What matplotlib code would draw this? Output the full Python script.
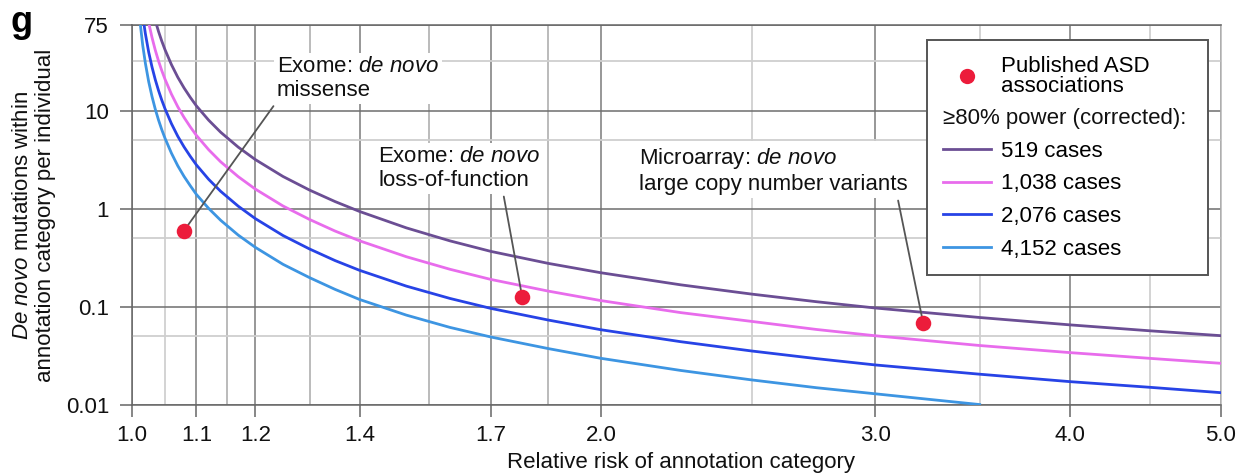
import numpy as np
import matplotlib.pyplot as plt
from matplotlib.lines import Line2D

plt.rcParams['font.family'] = ['Liberation Sans', 'DejaVu Sans']
plt.rcParams['mathtext.fontset'] = 'custom'
plt.rcParams['mathtext.rm'] = 'Liberation Sans'
plt.rcParams['mathtext.it'] = 'Liberation Sans:italic'
plt.rcParams['font.size'] = 16

# de novo rate needed for >=80% power
rr_519 = [1.035, 1.04, 1.045, 1.05, 1.06, 1.07, 1.08, 1.09, 1.1, 1.12, 1.14, 1.17,
          1.2, 1.25, 1.3, 1.35, 1.4, 1.5, 1.6, 1.7, 1.85, 2.0, 2.25, 2.5, 2.75,
          3.0, 3.5, 4.0, 4.5, 5.0]
rate_519 = [83.2, 64.4, 51.4, 42.0, 29.6, 22.0, 17.1, 13.7, 11.2, 8.02, 6.05, 4.26,
            3.18, 2.14, 1.555, 1.187, 0.94, 0.640, 0.4715, 0.368, 0.278, 0.223, 0.168,
            0.135, 0.113, 0.0975, 0.078, 0.0656, 0.0571, 0.0509]

rr_1038 = [1.022, 1.025, 1.03, 1.035, 1.04, 1.045, 1.05, 1.06, 1.07, 1.08, 1.09, 1.1,
           1.12, 1.14, 1.17, 1.2, 1.25, 1.3, 1.35, 1.4, 1.5, 1.6, 1.7, 1.85, 2.0,
           2.25, 2.5, 2.75, 3.0, 3.5, 4.0, 4.5, 5.0]
rate_1038 = [101, 79, 56, 41.6, 32.2, 25.7, 21.0, 14.8, 11.0, 8.55, 6.85, 5.6,
             4.01, 3.02, 2.13, 1.59, 1.07, 0.78, 0.594, 0.472, 0.325, 0.242, 0.1905,
             0.145, 0.116, 0.0875, 0.0711, 0.0589, 0.0508, 0.0404, 0.0342, 0.0299, 0.0266]

rr_2076 = [1.016, 1.02, 1.025, 1.03, 1.035, 1.04, 1.045, 1.05, 1.06, 1.07, 1.08, 1.09,
           1.1, 1.12, 1.14, 1.17, 1.2, 1.25, 1.3, 1.35, 1.4, 1.5, 1.6, 1.7, 1.85,
           2.0, 2.25, 2.5, 2.75, 3.0, 3.5, 4.0, 4.5, 5.0]
rate_2076 = [93, 61, 39.6, 28.0, 20.8, 16.1, 12.85, 10.5, 7.4, 5.5, 4.28, 3.43,
             2.8, 2.0, 1.51, 1.065, 0.795, 0.535, 0.39, 0.297, 0.236, 0.163, 0.122,
             0.0965, 0.0735, 0.0585, 0.0442, 0.0355, 0.0297, 0.0256, 0.0206, 0.0173,
             0.01515, 0.01335]

rr_4152 = [1.012, 1.013, 1.016, 1.02, 1.025, 1.03, 1.035, 1.04, 1.045, 1.05, 1.06,
           1.07, 1.08, 1.09, 1.1, 1.12, 1.14, 1.17, 1.2, 1.25, 1.3, 1.35, 1.4, 1.5,
           1.6, 1.7, 1.85, 2.0, 2.25, 2.5, 2.75, 3.0, 3.5]
rate_4152 = [81, 70, 46.5, 30.5, 19.8, 14.0, 10.4, 8.05, 6.42, 5.25, 3.7,
             2.75, 2.14, 1.72, 1.40, 1.01, 0.765, 0.54, 0.405, 0.272, 0.199, 0.151,
             0.119, 0.0825, 0.0618, 0.0493, 0.0376, 0.0299, 0.0225, 0.0180, 0.0150,
             0.0130, 0.0101]

case_labels = ['519 cases', '1,038 cases', '2,076 cases', '4,152 cases']
case_colors = ['#6B4E94', '#E86CEC', '#2743E6', '#3D95E2']

# published ASD associations
pub_rr = [1.08, 1.78, 3.22]
pub_rate = [0.60, 0.127, 0.068]
pub_labels = ['Exome: $\\mathit{de\\ novo}$\nmissense',
              'Exome: $\\mathit{de\\ novo}$\nloss-of-function',
              'Microarray: $\\mathit{de\\ novo}$\nlarge copy number variants']

x_ticks = [1.0, 1.1, 1.2, 1.4, 1.7, 2.0, 3.0, 4.0, 5.0]
x_minor = [1.15, 1.3, 1.55, 1.85]
x_faint = [1.05, 2.5, 3.5, 4.5]
y_ticks = [0.01, 0.1, 1, 10, 75]
y_tick_labels = ['0.01', '0.1', '1', '10', '75']
y_minor = [0.05, 0.5, 5, 32]

fig = plt.figure(figsize=(12.44, 4.75), dpi=100)
ax = fig.add_axes([0.1061, 0.1474, 0.8754, 0.8])
ax.set_xscale('log')
ax.set_yscale('log')
ax.set_xlim(1.0, 5.0)
ax.set_ylim(0.01, 75)

ax.set_xticks(x_ticks, [f'{t:.1f}' for t in x_ticks])
ax.set_xticks(x_minor, minor=True)
ax.set_yticks(y_ticks, y_tick_labels)
ax.set_yticks(y_minor, minor=True)
ax.xaxis.set_minor_formatter(plt.NullFormatter())
ax.yaxis.set_minor_formatter(plt.NullFormatter())

ax.tick_params(which='major', length=8.5, width=1.1, color='#666666', labelcolor='#111111')
ax.tick_params(axis='x', which='major', pad=6)
ax.tick_params(axis='y', which='major', pad=8)
ax.tick_params(which='minor', length=0)

ax.xaxis.grid(True, which='major', color='#7a7a7a', lw=1.1)
ax.yaxis.grid(True, which='major', color='#6e6e6e', lw=1.1)
ax.xaxis.grid(True, which='minor', color='#a8a8a8', lw=1.1)
ax.yaxis.grid(True, which='minor', color='#cfcfcf', lw=1.3)
for xf in x_faint:
    ax.axvline(xf, color='#d0d0d0', lw=1.3, zorder=0.5)
ax.set_axisbelow(True)

for sp in ['left', 'bottom', 'top']:
    ax.spines[sp].set_color('#666666')
    ax.spines[sp].set_linewidth(1.1)
ax.spines['right'].set_color('#b5b5b5')
ax.spines['right'].set_linewidth(1.1)

# power curves
series = [(rr_519, rate_519), (rr_1038, rate_1038), (rr_2076, rate_2076), (rr_4152, rate_4152)]
line_handles = []
for (rr, rate), lab, col in zip(series, case_labels, case_colors):
    ln, = ax.plot(rr, rate, color=col, lw=2, label=lab, zorder=3)
    line_handles.append(ln)

# published associations
ax.scatter(pub_rr, pub_rate, s=125, color='#EC1C3B', zorder=6, linewidths=0)

label_pos = [(1.239, 36.2), (1.4385, 4.38), (2.116, 4.38)]
label_relpos = [(0.0, 0.0), (0.77, 0.0), (0.96, 0.0)]
for rr, rate, lab, pos, rel in zip(pub_rr, pub_rate, pub_labels, label_pos, label_relpos):
    ax.annotate(lab, xy=(rr, rate), xytext=pos, textcoords='data',
                ha='left', va='top', linespacing=1.2, color='#111111',
                bbox=dict(boxstyle='square,pad=0.12', fc='white', ec='none'),
                arrowprops=dict(arrowstyle='-', color='#555555', lw=1.3,
                                relpos=rel, shrinkA=2, shrinkB=0),
                zorder=5)

# legend
fs_px = 16 * 100 / 72
dot_handle = Line2D([], [], marker='o', ls='none', color='#EC1C3B', ms=11, mew=0)
blank_handle = Line2D([], [], alpha=0)
leg = ax.legend([dot_handle, blank_handle] + line_handles,
                ['Published ASD\nassociations', ' '] + case_labels,
                loc='upper left', bbox_to_anchor=(0.730, 0.0, 0.258, 0.9605),
                mode='expand', borderaxespad=0,
                frameon=True, fancybox=False, framealpha=1, edgecolor='#555555',
                handlelength=2.2, handletextpad=0.45, labelspacing=0.52,
                borderpad=0.7, fontsize=16)
leg.get_frame().set_linewidth(1.4)
leg.get_texts()[0].set_linespacing(0.95)
leg.set_zorder(7)

fig.canvas.draw()
hdr = leg.get_texts()[1].get_window_extent()
frame = leg.get_frame().get_window_extent()
hx, hy = ax.transAxes.inverted().transform((frame.x0 + 0.7 * fs_px,
                                             (hdr.y0 + hdr.y1) / 2))
ax.text(hx, hy, '≥80% power (corrected):', transform=ax.transAxes,
        ha='left', va='center', color='#111111', zorder=8)

ax.set_xlabel('Relative risk of annotation category', color='#111111')
ax.xaxis.set_label_coords(0.504, -0.123)
ax.set_ylabel('$\\mathit{De\\ novo}$ mutations within\nannotation category per individual',
              color='#111111', linespacing=1.1, fontsize=16)
ax.yaxis.set_label_coords(-0.0698, 0.5)

fig.text(10 / 1244, 1 - 32 / 475, 'g', fontsize=26, fontweight='bold', va='baseline')

fig.savefig('out.png', dpi=100)
